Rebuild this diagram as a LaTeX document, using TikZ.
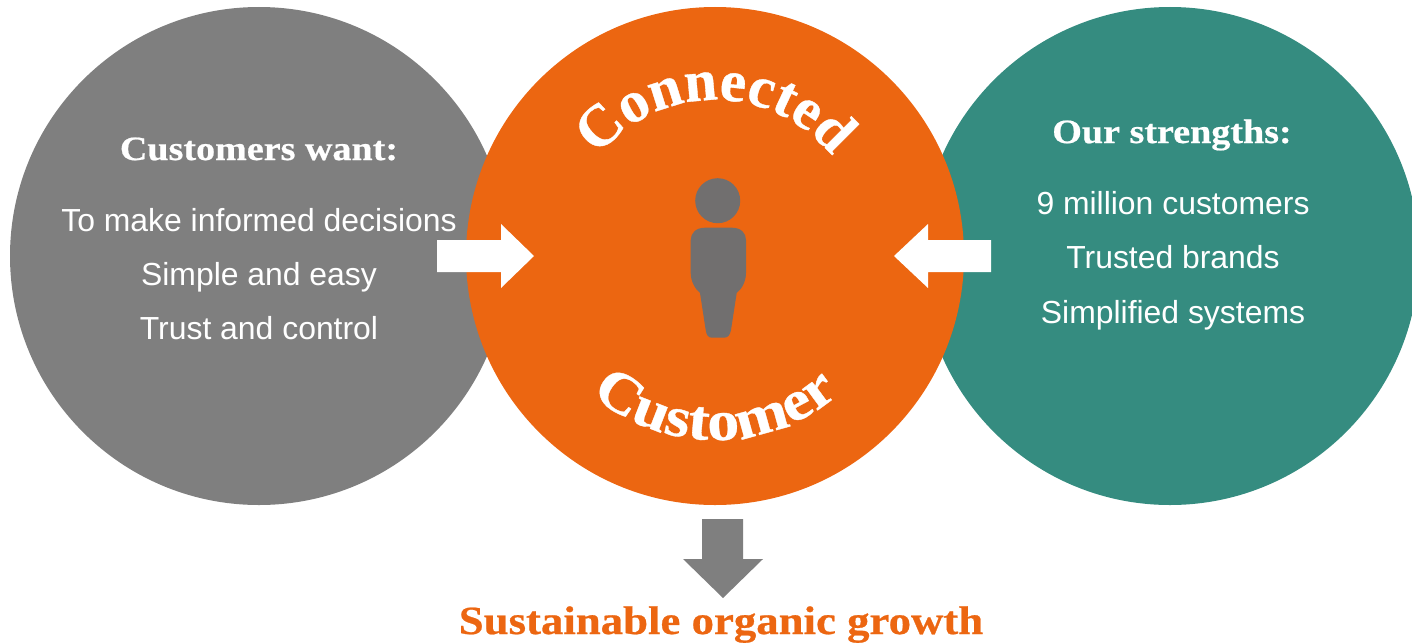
\documentclass[tikz,border=0pt]{standalone}
\usepackage{fontspec}
\setmainfont{Liberation Sans}
\newfontfamily\headfont[FakeStretch=1.12,FakeBold=0.6]{Liberation Serif}
\newfontfamily\arcfont[FakeBold=0.6]{Liberation Serif}
\usepackage{xcolor}
\usetikzlibrary{decorations.text}
\definecolor{greyring}{HTML}{7F7F7F}
\definecolor{orangering}{HTML}{EC6611}
\definecolor{tealring}{HTML}{358C80}
\definecolor{persongrey}{HTML}{716F6F}
\tikzset{
ring/.style={circle,minimum size=498pt,inner sep=0pt},
line/.style={text=white,anchor=base,font=\fontsize{31.9}{32}\selectfont},
head/.style={text=white,anchor=base,font=\headfont\bfseries\fontsize{34}{34}\selectfont},
blockarrow/.style={fill=white},
}
\begin{document}
\begin{tikzpicture}[x=1pt,y=-1pt]
\useasboundingbox (0,0) rectangle (1412,642);
\clip (0,0) rectangle (1412,642);
% the rings
\node[ring,fill=greyring] (want) at (259,256) {};
\node[ring,fill=tealring] (strength) at (1170,256) {};
\node[ring,fill=orangering] (connect) at (715,256) {};
% the left text
\node[head] (wanthead) at (259,160) {Customers want:};
\node[line] (want1) at (259,231) {To make informed decisions};
\node[line] (want2) at (259,285) {Simple and easy};
\node[line] (want3) at (259,339) {Trust and control};
% the right text
\node[head] (stronghead) at (1172,143) {Our strengths:};
\node[line] (strong1) at (1173,214) {9 million customers};
\node[line] (strong2) at (1173,268) {Trusted brands};
\node[line] (strong3) at (1173,323) {Simplified systems};
% the arrows
\fill[blockarrow] (437,240) -- (501,240) -- (501,224) -- (534,256) -- (501,288) -- (501,272) -- (437,272) -- cycle;
\fill[blockarrow] (991,240) -- (928,240) -- (928,224) -- (894,256) -- (928,288) -- (928,272) -- (991,272) -- cycle;
\fill[greyring] (702,519) -- (743,519) -- (743,559) -- (763,559) -- (723,598) -- (683,559) -- (702,559) -- cycle;
% the person
\fill[persongrey] (717.7,200.7) circle[radius=22.5pt];
\fill[persongrey] (705,227.7) -- (732,227.7) .. controls (741,227.7) and (746,233) .. (746,240)
  -- (746,273) .. controls (746,281) and (742,289) .. (736.7,293)
  -- (731,330) .. controls (730,335) and (728,337.7) .. (724,337.7)
  -- (712,337.7) .. controls (708,337.7) and (706.5,335) .. (705.7,330)
  -- (700,293) .. controls (695,289) and (690.7,281) .. (690.7,273)
  -- (690.7,240) .. controls (690.7,233) and (696,227.7) .. (705,227.7) -- cycle;
% the curved words
\path[decorate,decoration={text along path,text align=center,
  text={|\arcfont\bfseries\fontsize{59}{59}\selectfont\color{white}|Connected}}]
  (715,250) ++(152:150pt) arc[start angle=152,end angle=28,radius=150pt];
\path[decorate,decoration={text along path,text align=center,
  text={|\headfont\bfseries\fontsize{57}{57}\selectfont\color{white}|Customer}}]
  (715,250) ++(218:190pt) arc[start angle=218,end angle=322,radius=190pt];
% the result
\node[head,text=orangering,font=\headfont\bfseries\fontsize{40}{40}\selectfont] (growth) at (721,634) {Sustainable organic growth};
\end{tikzpicture}
\end{document}
